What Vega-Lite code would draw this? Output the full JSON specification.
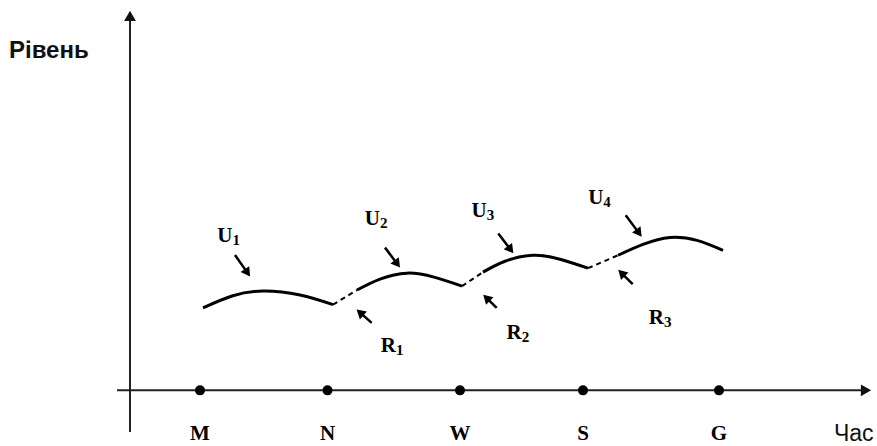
{
  "$schema": "https://vega.github.io/schema/vega-lite/v6.json",
  "width": 877,
  "height": 446,
  "autosize": {"type": "fit", "contains": "padding"},
  "padding": 0,
  "background": "white",
  "config": {"view": {"stroke": null}},
  "datasets": {
    "axes": [
      {"name": "Рівень", "x": 130, "y": 11, "hx": 130, "hy": 430},
      {"name": "Час", "x": 117, "y": 53, "hx": 866, "hy": 53}
    ],
    "axisTitles": [
      {"text": "Рівень", "x": 9, "y": 388},
      {"text": "Час", "x": 834, "y": 2}
    ],
    "moments": [
      {"label": "M", "x": 200, "y": 53},
      {"label": "N", "x": 327.5, "y": 53},
      {"label": "W", "x": 460, "y": 53},
      {"label": "S", "x": 583, "y": 53},
      {"label": "G", "x": 719, "y": 53}
    ],
    "curves": [
      {"seg": "U1", "x": 203, "y": 136},
      {"seg": "U1", "x": 232, "y": 148},
      {"seg": "U1", "x": 263, "y": 153},
      {"seg": "U1", "x": 300, "y": 149},
      {"seg": "U1", "x": 333, "y": 139.3},
      {"seg": "U2", "x": 357, "y": 154},
      {"seg": "U2", "x": 380, "y": 165},
      {"seg": "U2", "x": 407, "y": 171},
      {"seg": "U2", "x": 434, "y": 167},
      {"seg": "U2", "x": 462, "y": 158},
      {"seg": "U3", "x": 483, "y": 172},
      {"seg": "U3", "x": 505, "y": 183},
      {"seg": "U3", "x": 533, "y": 189},
      {"seg": "U3", "x": 560, "y": 185},
      {"seg": "U3", "x": 588, "y": 176},
      {"seg": "U4", "x": 618, "y": 189},
      {"seg": "U4", "x": 643, "y": 200},
      {"seg": "U4", "x": 670, "y": 207},
      {"seg": "U4", "x": 697, "y": 204},
      {"seg": "U4", "x": 723, "y": 194}
    ],
    "transitions": [
      {"seg": "R1", "x": 333, "y": 139.3},
      {"seg": "R1", "x": 357, "y": 154},
      {"seg": "R2", "x": 462, "y": 158},
      {"seg": "R2", "x": 483, "y": 172},
      {"seg": "R3", "x": 588, "y": 176},
      {"seg": "R3", "x": 618, "y": 189}
    ],
    "pointers": [
      {"name": "U1", "x": 235, "y": 189.3, "hx": 247.5, "hy": 171.3},
      {"name": "U2", "x": 385, "y": 196.7, "hx": 397.3, "hy": 180.3},
      {"name": "U3", "x": 498.3, "y": 211, "hx": 510.6, "hy": 194.6},
      {"name": "U4", "x": 625.7, "y": 229.3, "hx": 639, "hy": 211.3},
      {"name": "R1", "x": 371.7, "y": 121, "hx": 360, "hy": 131.4},
      {"name": "R2", "x": 496.7, "y": 136, "hx": 486.5, "hy": 146.1},
      {"name": "R3", "x": 632.7, "y": 160, "hx": 621.5, "hy": 171.1}
    ],
    "labels": [
      {"letter": "U", "sub": "1", "x": 232.5, "y": 202.5},
      {"letter": "U", "sub": "2", "x": 380, "y": 219},
      {"letter": "U", "sub": "3", "x": 486.7, "y": 228},
      {"letter": "U", "sub": "4", "x": 603.3, "y": 241},
      {"letter": "R", "sub": "1", "x": 396, "y": 92},
      {"letter": "R", "sub": "2", "x": 521.7, "y": 105},
      {"letter": "R", "sub": "3", "x": 664, "y": 120}
    ]
  },
  "encoding": {
    "x": {"field": "x", "type": "quantitative", "scale": {"domain": [0, 877], "nice": false, "zero": false}, "axis": null},
    "y": {"field": "y", "type": "quantitative", "scale": {"domain": [0, 446], "nice": false, "zero": false}, "axis": null}
  },
  "layer": [
    {
      "data": {"name": "axes"},
      "mark": {"type": "rule", "color": "#222", "strokeWidth": 2},
      "encoding": {
        "x2": {"field": "hx"},
        "y2": {"field": "hy"}
      }
    },
    {
      "data": {"name": "axes"},
      "transform": [{"calculate": "atan2(datum.hx - datum.x, datum.hy - datum.y) * 180 / PI", "as": "ang"}],
      "mark": {"type": "point", "shape": "triangle-up", "filled": true, "color": "#111", "size": 140, "opacity": 1},
      "encoding": {
        "x": {"field": "hx", "type": "quantitative", "scale": {"domain": [0, 877], "nice": false, "zero": false}, "axis": null},
        "y": {"field": "hy", "type": "quantitative", "scale": {"domain": [0, 446], "nice": false, "zero": false}, "axis": null},
        "angle": {"field": "ang", "type": "quantitative", "scale": null}
      }
    },
    {
      "data": {"name": "axisTitles"},
      "transform": [{"filter": "datum.text == 'Рівень'"}],
      "mark": {"type": "text", "align": "left", "baseline": "alphabetic", "font": "Liberation Sans", "fontSize": 24, "fontWeight": "bold", "color": "#111"},
      "encoding": {"text": {"field": "text"}}
    },
    {
      "data": {"name": "axisTitles"},
      "transform": [{"filter": "datum.text == 'Час'"}],
      "mark": {"type": "text", "align": "left", "baseline": "alphabetic", "font": "Liberation Sans", "fontSize": 23, "color": "#111"},
      "encoding": {"text": {"field": "text"}}
    },
    {
      "data": {"name": "moments"},
      "mark": {"type": "point", "shape": "circle", "filled": true, "color": "#000", "size": 100, "opacity": 1}
    },
    {
      "data": {"name": "moments"},
      "mark": {"type": "text", "align": "center", "baseline": "alphabetic", "font": "Liberation Serif", "fontSize": 21, "fontWeight": "bold", "color": "#000", "dy": 50},
      "encoding": {"text": {"field": "label"}}
    },
    {
      "data": {"name": "curves"},
      "mark": {"type": "line", "interpolate": "natural", "color": "#000", "strokeWidth": 3},
      "encoding": {"detail": {"field": "seg"}}
    },
    {
      "data": {"name": "transitions"},
      "mark": {"type": "line", "color": "#000", "strokeWidth": 2, "strokeDash": [5, 4]},
      "encoding": {"detail": {"field": "seg"}}
    },
    {
      "data": {"name": "pointers"},
      "mark": {"type": "rule", "color": "#000", "strokeWidth": 2.5},
      "encoding": {
        "x2": {"field": "hx"},
        "y2": {"field": "hy"}
      }
    },
    {
      "data": {"name": "pointers"},
      "transform": [{"calculate": "atan2(datum.hx - datum.x, datum.hy - datum.y) * 180 / PI + 360", "as": "ang"}],
      "mark": {"type": "point", "shape": "triangle-up", "filled": true, "color": "#000", "size": 110, "opacity": 1},
      "encoding": {
        "x": {"field": "hx", "type": "quantitative", "scale": {"domain": [0, 877], "nice": false, "zero": false}, "axis": null},
        "y": {"field": "hy", "type": "quantitative", "scale": {"domain": [0, 446], "nice": false, "zero": false}, "axis": null},
        "angle": {"field": "ang", "type": "quantitative", "scale": null}
      }
    },
    {
      "data": {"name": "labels"},
      "mark": {"type": "text", "align": "right", "baseline": "alphabetic", "font": "Liberation Serif", "fontSize": 21, "fontWeight": "bold", "color": "#000"},
      "encoding": {"text": {"field": "letter"}}
    },
    {
      "data": {"name": "labels"},
      "mark": {"type": "text", "align": "left", "baseline": "alphabetic", "font": "Liberation Serif", "fontSize": 15, "fontWeight": "bold", "color": "#000", "dy": 3},
      "encoding": {"text": {"field": "sub"}}
    }
  ]
}
